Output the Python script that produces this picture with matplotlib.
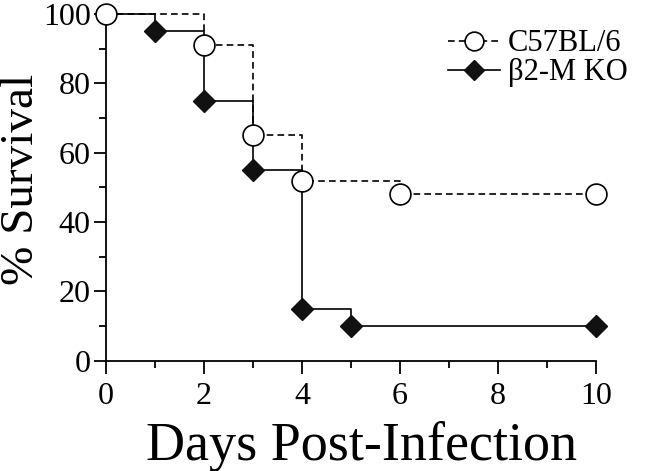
import matplotlib.pyplot as plt
from matplotlib.ticker import MultipleLocator

plt.rcParams['font.family'] = ['Liberation Serif', 'DejaVu Serif']

# survival data (day, % surviving)
wt_days = [0, 2, 3, 4, 6, 10]
wt_surv = [100, 91, 65, 52, 48, 48]
ko_days = [0, 1, 2, 3, 4, 5, 10]
ko_surv = [100, 95, 75, 55, 15, 10, 10]
wt_label = 'C57BL/6'
ko_label = 'β2-M KO'

fig = plt.figure(figsize=(6.5, 4.71), dpi=100)
ax = fig.add_axes([0.163, 0.234, 0.754, 0.736])

ax.step(ko_days, ko_surv, where='post', color='k', lw=1.2, ls='-',
        marker='D', ms=11, mfc='#111111', mec='#111111', markevery=slice(1, None),
        clip_on=False, zorder=3, label=ko_label)
ax.step(wt_days, wt_surv, where='post', color='k', lw=1.2, ls=(0, (4, 2.5)),
        marker='o', ms=15, mfc='white', mec='k', mew=1.2,
        clip_on=False, zorder=4, label=wt_label)

ax.set_xlim(0, 10)
ax.set_ylim(0, 100)
ax.xaxis.set_major_locator(MultipleLocator(2))
ax.xaxis.set_minor_locator(MultipleLocator(1))
ax.yaxis.set_major_locator(MultipleLocator(20))
ax.yaxis.set_minor_locator(MultipleLocator(10))
ax.tick_params(which='major', direction='out', length=9, width=1.3, labelsize=23, pad=2)
ax.tick_params(axis='x', which='major', pad=6)
ax.tick_params(which='minor', direction='out', length=5, width=1.3)
for s in ['top', 'right']:
    ax.spines[s].set_visible(False)
for s in ['left', 'bottom']:
    ax.spines[s].set_linewidth(1.3)

# axis labels placed by baseline
ax.set_xlabel('Days Post-Infection', fontsize=39)
ax.xaxis.set_label_coords(0.522, -0.285, transform=ax.transAxes)
ax.xaxis.label.set_va('baseline')
ax.set_ylabel('% Survival', fontsize=34)
ax.yaxis.set_label_coords(-0.149, 0.522, transform=ax.transAxes)
ax.yaxis.label.set_rotation_mode('anchor')
ax.yaxis.label.set_va('baseline')
ax.yaxis.label.set_ha('center')

h, l = ax.get_legend_handles_labels()
ax.legend(h[::-1], l[::-1], loc='upper right', bbox_to_anchor=(1.12, 1.035),
          frameon=False, fontsize=22, handlelength=1.7, handletextpad=0.25,
          labelspacing=0.0, markerscale=0.9)

fig.savefig('out.png', dpi=100)
